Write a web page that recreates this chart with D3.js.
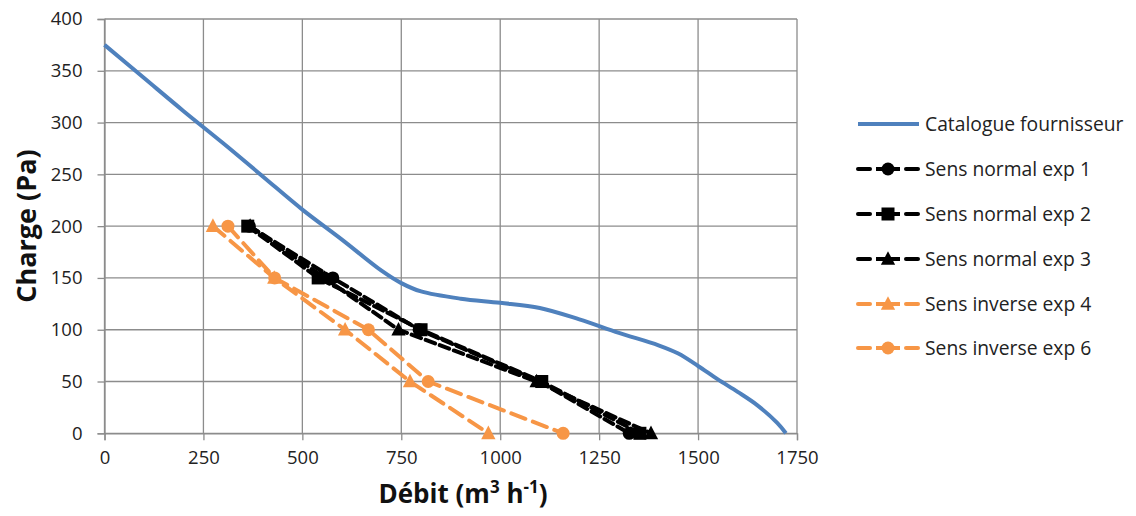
<!DOCTYPE html>
<html><head><meta charset="utf-8">
<script src="https://cdn.jsdelivr.net/npm/d3@7"></script>
<style>body{margin:0;background:#fff}text{font-family:"Open Sans",Lato,sans-serif}</style>
</head><body><svg id="c" width="1136" height="516"></svg>
<script>
const xTicks = [0,250,500,750,1000,1250,1500,1750];
const yTicks = [0,50,100,150,200,250,300,350,400];
const catalogueX = [0,100,200,300,400,500,600,700,750,800,900,1000,1100,1200,1300,1400,1450,1500,1550,1600,1650,1700,1722];
const catalogueY = [375,343,311,280,248,216,187,157,145,137,130,126,121,110,97,85,77,65,52,40,27,10,0];
const exp1X = [366,577,795,1100,1326];
const exp1Y = [200,150,100,50,0];
const exp2X = [362,540,800,1105,1353];
const exp2Y = [200,150,100,50,0];
const exp3X = [368,556,743,1092,1381];
const exp3Y = [200,150,100,50,0];
const exp4X = [274,429,608,772,970];
const exp4Y = [200,150,100,50,0];
const exp6X = [312,430,667,818,1159];
const exp6Y = [200,150,100,50,0];
const seriesNames = ["Catalogue fournisseur","Sens normal exp 1","Sens normal exp 2","Sens normal exp 3","Sens inverse exp 4","Sens inverse exp 6"];

const BLUE="#4F81BD", ORANGE="#F79646", BLACK="#000";
const series = [
  {name:seriesNames[0], xs:catalogueX, ys:catalogueY, color:BLUE, dash:null, marker:null, curve:d3.curveCatmullRom},
  {name:seriesNames[1], xs:exp1X, ys:exp1Y, color:BLACK, dash:"10,5", marker:"circle", curve:d3.curveLinear},
  {name:seriesNames[2], xs:exp2X, ys:exp2Y, color:BLACK, dash:"10,5", marker:"square", curve:d3.curveLinear},
  {name:seriesNames[3], xs:exp3X, ys:exp3Y, color:BLACK, dash:"10,5", marker:"triangle", curve:d3.curveLinear},
  {name:seriesNames[4], xs:exp4X, ys:exp4Y, color:ORANGE, dash:"15,8", marker:"triangle", curve:d3.curveLinear},
  {name:seriesNames[5], xs:exp6X, ys:exp6Y, color:ORANGE, dash:"15,8", marker:"circle", curve:d3.curveLinear}
];

const svg = d3.select("#c");
const x = d3.scaleLinear().domain([0,1750]).range([104.5,797]);
const y = d3.scaleLinear().domain([0,400]).range([433.3,19]);

// grid
const g = svg.append("g");
g.selectAll(".vg").data(xTicks).join("line")
  .attr("x1",d=>x(d)).attr("x2",d=>x(d)).attr("y1",y(0)).attr("y2",y(400))
  .attr("stroke","#8c8c8c").attr("stroke-width",1.3);
g.selectAll(".hg").data(yTicks).join("line")
  .attr("x1",x(0)).attr("x2",x(1750)).attr("y1",d=>y(d)).attr("y2",d=>y(d))
  .attr("stroke","#8c8c8c").attr("stroke-width",1.3);

// axes
const xAxis = d3.axisBottom(x).tickValues(xTicks).tickSize(7).tickPadding(11).tickFormat(d3.format("d"));
const yAxis = d3.axisLeft(y).tickValues(yTicks).tickSize(7).tickPadding(15).tickFormat(d3.format("d"));
const xa = svg.append("g").attr("transform",`translate(0,${y(0)})`).call(xAxis);
const ya = svg.append("g").attr("transform",`translate(${x(0)},0)`).call(yAxis);
[xa,ya].forEach(a=>{
  a.select(".domain").attr("stroke","#8c8c8c").attr("stroke-width",1.3);
  a.selectAll(".tick line").attr("stroke","#8c8c8c").attr("stroke-width",1.3);
  a.selectAll(".tick text").attr("font-size",18.5).attr("fill","#222").style("font-family","'Open Sans'");
});

// symbols
function drawMarker(sel, type, color, size){
  if(type==="circle"){
    sel.append("circle").attr("r",size/2).attr("fill",color);
  } else if(type==="square"){
    sel.append("rect").attr("x",-size/2).attr("y",-size/2).attr("width",size).attr("height",size).attr("fill",color);
  } else if(type==="triangle"){
    const h=size*1.0, w=size*1.1;
    sel.append("path").attr("d",`M0,${-h*0.6}L${w/2},${h*0.45}L${-w/2},${h*0.45}Z`).attr("fill",color);
  }
}

const plot = svg.append("g");
series.forEach(s=>{
  const pts = s.xs.map((v,i)=>[v,s.ys[i]]);
  const line = d3.line().x(d=>x(d[0])).y(d=>y(d[1])).curve(s.curve);
  plot.append("path").datum(pts).attr("d",line).attr("fill","none")
    .attr("stroke",s.color).attr("stroke-width",4)
    .attr("stroke-dasharray",s.dash).attr("stroke-linecap",s.dash?"round":"butt");
  if(s.marker){
    pts.forEach(p=>{
      const m = plot.append("g").attr("transform",`translate(${x(p[0])},${y(p[1])})`);
      drawMarker(m, s.marker, s.color, 13);
    });
  }
});

// axis titles
svg.append("text").attr("x",463).attr("y",503).attr("text-anchor","middle")
  .attr("font-size",26).attr("font-weight","bold").attr("fill","#111")
  .html('Débit (m<tspan font-size="17" dy="-10">3</tspan><tspan dy="10"> h</tspan><tspan font-size="17" dy="-10">-1</tspan><tspan dy="10">)</tspan>');
svg.append("text").attr("transform","translate(36,226) rotate(-90)").attr("text-anchor","middle")
  .attr("font-size",27).attr("font-weight","bold").attr("fill","#111").text("Charge (Pa)");

// legend
const legY = [124,169,214,259,304,348];
const leg = svg.append("g");
series.forEach((s,i)=>{
  const gy = legY[i];
  const lg = leg.append("g").attr("transform",`translate(0,${gy})`);
  if(s.dash){
    lg.append("line").attr("x1",858).attr("x2",870).attr("y1",0).attr("y2",0).attr("stroke",s.color).attr("stroke-width",4).attr("stroke-linecap","round");
    lg.append("line").attr("x1",906).attr("x2",918).attr("y1",0).attr("y2",0).attr("stroke",s.color).attr("stroke-width",4).attr("stroke-linecap","round");
    lg.append("line").attr("x1",876).attr("x2",900).attr("y1",0).attr("y2",0).attr("stroke",s.color).attr("stroke-width",4);
    const m = lg.append("g").attr("transform","translate(888,0)");
    drawMarker(m, s.marker, s.color, 13);
  } else {
    lg.append("line").attr("x1",858).attr("x2",919).attr("y1",0).attr("y2",0).attr("stroke",s.color).attr("stroke-width",4);
  }
  lg.append("text").attr("x",925).attr("y",6.5).attr("font-size",19.3).attr("fill","#222").text(s.name);
});
</script></body></html>
